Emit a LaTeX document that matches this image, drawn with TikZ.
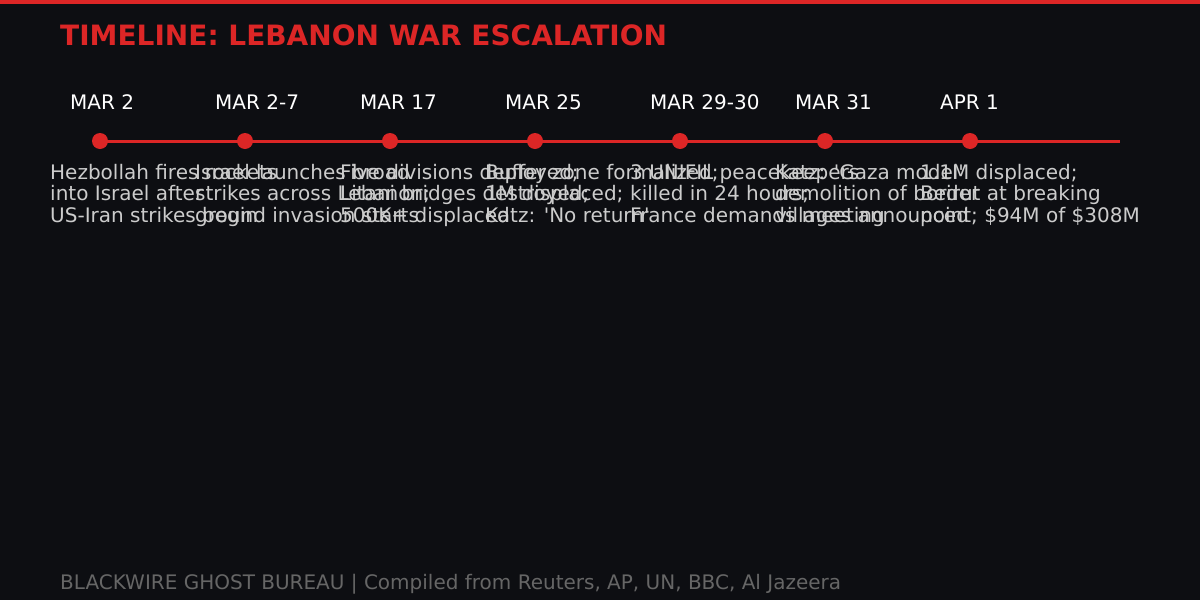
\documentclass[tikz,border=0pt]{standalone}
\usepackage{fontspec}
\setmainfont{DejaVu Sans}
\usetikzlibrary{positioning}
\usetikzlibrary{backgrounds}
\definecolor{bgdark}{HTML}{0D0E12}
\definecolor{alertred}{HTML}{DC2626}
\definecolor{desctext}{HTML}{CCCCCC}
\definecolor{foottext}{HTML}{666666}
\tikzset {
  % the red rule the events sit on
  tl line/.style = {
    draw = alertred,
    line width = 3pt
  },
  event dot/.style = {
    circle,
    fill = alertred,
    minimum size = 16pt,
    inner sep = 0,
    outer sep = 0
  },
  % date above each dot
  date label/.style = {
    anchor = base west,
    inner sep = 0,
    text = white,
    font = \fontsize{20}{24}\selectfont
  },
  % event description below each dot (base = last line)
  event text/.style = {
    anchor = base west,
    inner sep = 0,
    text = desctext,
    align = left,
    font = \fontsize{20}{21.5}\selectfont
  },
  title text/.style = {
    anchor = base west,
    inner sep = 0,
    text = alertred,
    font = \fontsize{28}{32}\selectfont\bfseries
  },
  foot text/.style = {
    anchor = base west,
    inner sep = 0,
    text = foottext,
    font = \fontsize{20}{24}\selectfont
  },
  node distance = 129pt
}

\begin{document}
\begin{tikzpicture}[x=1pt, y=-1pt]
    \useasboundingbox (0,0) rectangle (1200,600);

    \node[title text] (title) at (60,45) {TIMELINE: LEBANON WAR ESCALATION};

    \node[event dot] (mar2) at (100,141) {};
    \node[event dot] (mar2to7) [right=of mar2] {};
    \node[event dot] (mar17) [right=of mar2to7] {};
    \node[event dot] (mar25) [right=of mar17] {};
    \node[event dot] (mar29to30) [right=of mar25] {};
    \node[event dot] (mar31) [right=of mar29to30] {};
    \node[event dot] (apr1) [right=of mar31] {};
    \coordinate (tl-end) at (1120,141);

    \begin{scope}[on background layer]
      \fill[bgdark] (0,0) rectangle (1200,600);
      \fill[alertred] (0,0) rectangle (1200,4);
      \draw[tl line] (mar2.center) -- (tl-end);
    \end{scope}

    \node[date label] (mar2-date) at ([xshift=-30pt, yshift=32pt]mar2.center) {MAR 2};
    \node[date label] (mar2to7-date) at ([xshift=-30pt, yshift=32pt]mar2to7.center) {MAR 2-7};
    \node[date label] (mar17-date) at ([xshift=-30pt, yshift=32pt]mar17.center) {MAR 17};
    \node[date label] (mar25-date) at ([xshift=-30pt, yshift=32pt]mar25.center) {MAR 25};
    \node[date label] (mar29to30-date) at ([xshift=-30pt, yshift=32pt]mar29to30.center) {MAR 29-30};
    \node[date label] (mar31-date) at ([xshift=-30pt, yshift=32pt]mar31.center) {MAR 31};
    \node[date label] (apr1-date) at ([xshift=-30pt, yshift=32pt]apr1.center) {APR 1};

    \node[event text] (mar2-text) at ([xshift=-50pt, yshift=-81pt]mar2.center)
      {Hezbollah fires rockets\\into Israel after\\US-Iran strikes begin};
    \node[event text] (mar2to7-text) at ([xshift=-50pt, yshift=-81pt]mar2to7.center)
      {Israel launches broad\\strikes across Lebanon;\\ground invasion starts};
    \node[event text] (mar17-text) at ([xshift=-50pt, yshift=-81pt]mar17.center)
      {Five divisions deployed;\\Litani bridges destroyed;\\500K+ displaced};
    \node[event text] (mar25-text) at ([xshift=-50pt, yshift=-81pt]mar25.center)
      {Buffer zone formalized;\\1M displaced;\\Katz: \textquotesingle No return\textquotesingle};
    \node[event text] (mar29to30-text) at ([xshift=-50pt, yshift=-81pt]mar29to30.center)
      {3 UNIFIL peacekeepers\\killed in 24 hours;\\France demands meeting};
    \node[event text] (mar31-text) at ([xshift=-50pt, yshift=-81pt]mar31.center)
      {Katz: \textquotesingle Gaza model\textquotesingle\\demolition of border\\villages announced};
    \node[event text] (apr1-text) at ([xshift=-50pt, yshift=-81pt]apr1.center)
      {1.1M displaced;\\Beirut at breaking\\point; \$94M of \$308M};

    \node[foot text] (footer) at (60,589)
      {BLACKWIRE GHOST BUREAU | Compiled from Reuters, AP, UN, BBC, Al Jazeera};
\end{tikzpicture}
\end{document}
